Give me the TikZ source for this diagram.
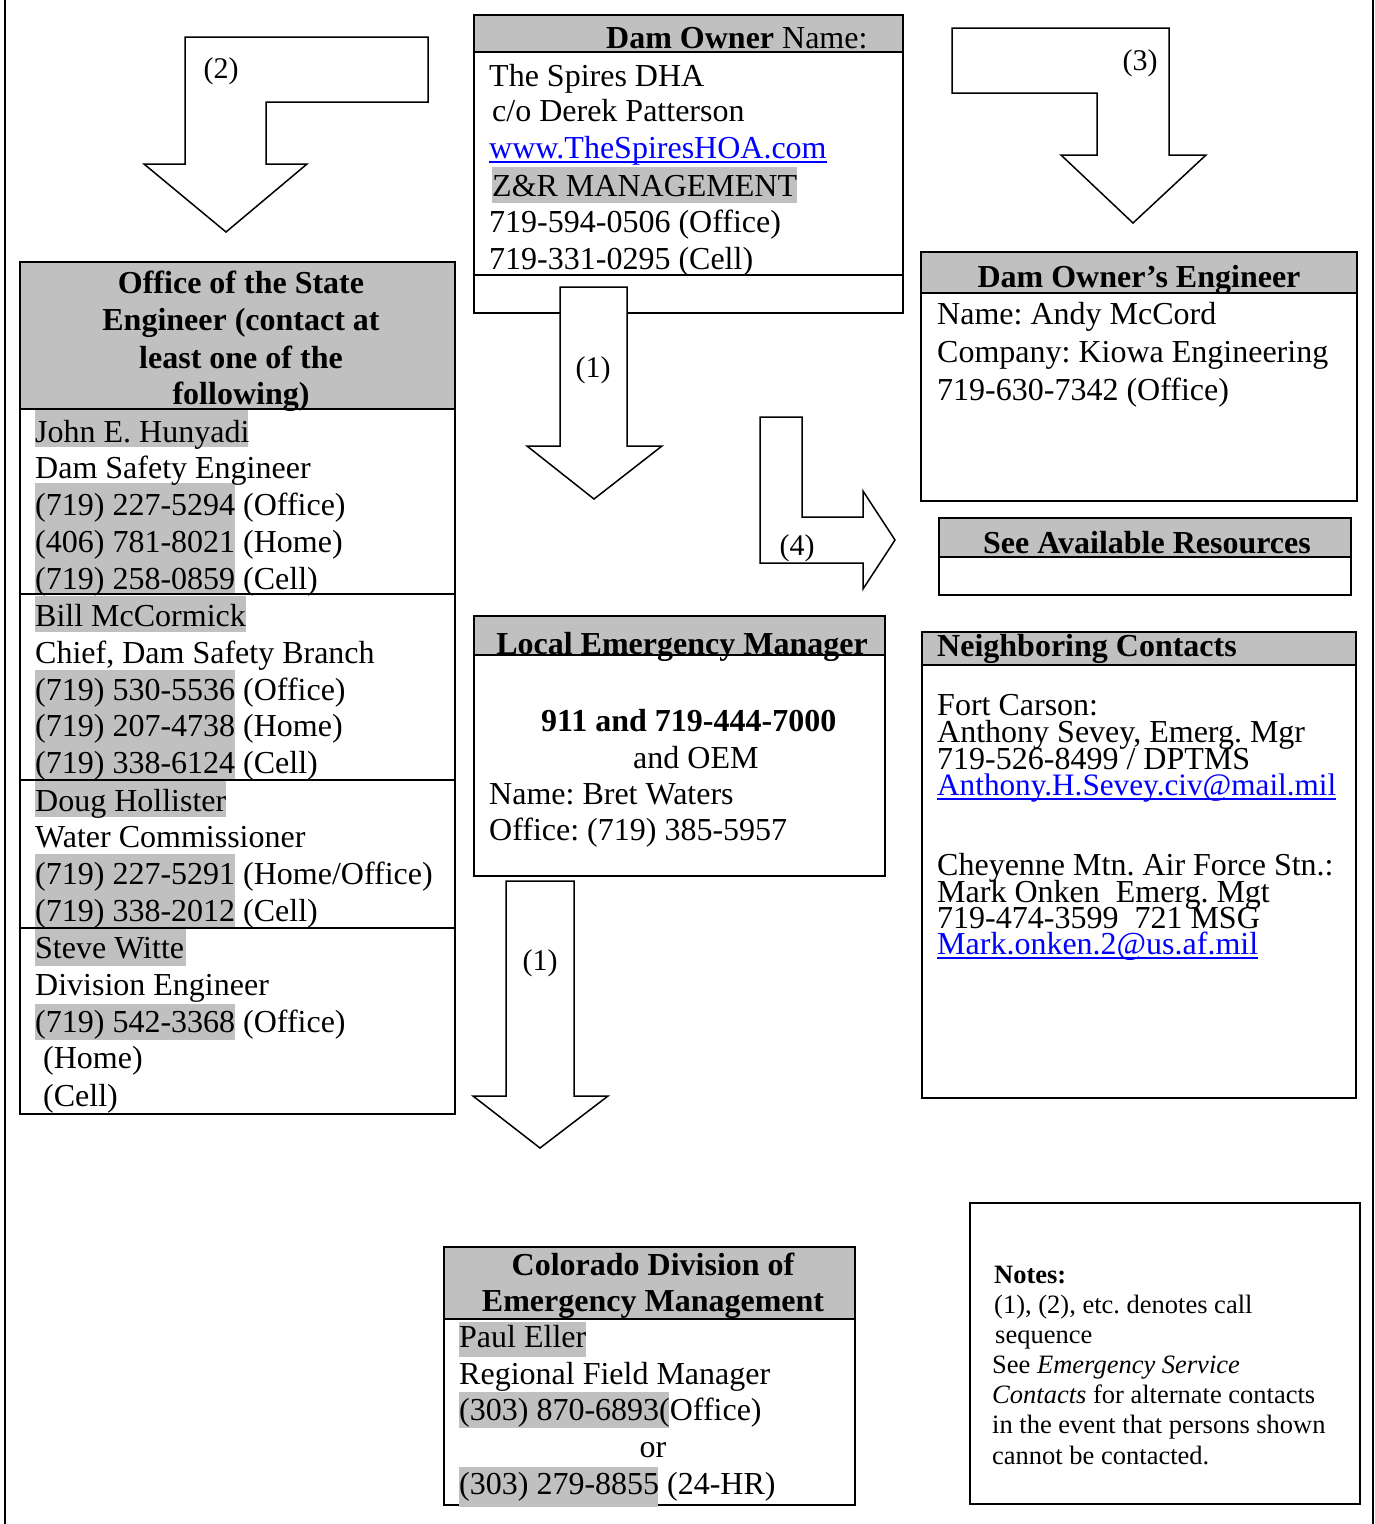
\documentclass[tikz,border=0pt]{standalone}
\usepackage{fontspec}
\setmainfont{Liberation Serif}
\definecolor{hl}{RGB}{192,192,192}
\definecolor{lnk}{RGB}{0,0,255}
\tikzset{
 tx/.style={anchor=base west, inner sep=0pt, font=\fontsize{32}{37}\selectfont},
 hd/.style={anchor=base, inner sep=0pt, font=\fontsize{32}{37}\selectfont\bfseries},
 lbl/.style={anchor=base, inner sep=0pt, font=\fontsize{30}{34}\selectfont},
 nt/.style={anchor=base west, inner sep=0pt, font=\fontsize{26.5}{30}\selectfont},
 box/.style={draw=black, line width=1.5pt},
 blk/.style={draw=black, line width=1.5pt, fill=white, line join=miter},
 lk/.style={tx, text=lnk},
 ul/.style={draw=lnk, line width=1.5pt},
}
\begin{document}
\frenchspacing
\begin{tikzpicture}[x=1pt,y=-1pt]
\useasboundingbox (0,0) rectangle (1375,1524);
% page borders
\draw[line width=2pt] (5,0) -- (5,1524);
\draw[line width=2pt] (1373,0) -- (1373,1524);

% ---------- arrow (2)
\draw[blk] (185,37) -- (428,37) -- (428,102) -- (266,102) -- (266,164) -- (307,164) -- (226,232) -- (144,164) -- (185,164) -- cycle;
\node[lbl] (l2) at (221,78) {(2)};

% ---------- arrow (3)
\draw[blk] (952,28) -- (1169,28) -- (1169,155) -- (1206,155) -- (1133,223) -- (1061,155) -- (1097,155) -- (1097,93) -- (952,93) -- cycle;
\node[lbl] (l3) at (1140,70) {(3)};

% ---------- Dam Owner box
\fill[hl] (474,15) rectangle (903,52);
\draw[box] (474,15) rectangle (903,313);
\draw[box] (474,52) -- (903,52);
\draw[box] (474,275) -- (903,275);
\fill[hl] (492,167) rectangle (797,203);
\node[tx] (doh) at (606,48) {\textbf{Dam Owner} Name:};
\node[tx] (do1) at (489,86) {The Spires DHA};
\node[tx] (do2) at (492,121) {c/o Derek Patterson};
\node[lk] (do3) at (489,158) {www.TheSpiresHOA.com};
\draw[ul] ([yshift=-4pt]do3.base west) -- ([yshift=-4pt]do3.base east);
\node[tx] (do4) at (492,196) {Z\&R MANAGEMENT};
\node[tx] (do5) at (489,232) {719-594-0506 (Office)};
\node[tx] (do6) at (489,269) {719-331-0295 (Cell)};

% ---------- arrow (1) top
\draw[blk] (560,287) -- (627,287) -- (627,446) -- (662,446) -- (594,499) -- (527,446) -- (560,446) -- cycle;
\node[lbl] (l1a) at (593,377) {(1)};

% ---------- arrow (4)
\draw[blk] (760,417) -- (802,417) -- (802,517) -- (863,517) -- (863,491) -- (895,540) -- (863,589) -- (863,563) -- (760,563) -- cycle;
\node[lbl] (l4) at (797,555) {(4)};

% ---------- Office of the State Engineer
\fill[hl] (20,262) rectangle (455,409);
\fill[hl] (35,410) rectangle (248,447);
\fill[hl] (35,483) rectangle (235,593);
\fill[hl] (35,596) rectangle (246,632);
\fill[hl] (35,670) rectangle (235,779);
\fill[hl] (35,781) rectangle (226,817);
\fill[hl] (35,854) rectangle (235,927);
\fill[hl] (35,929) rectangle (186,966);
\fill[hl] (35,1004) rectangle (235,1040);
\draw[box] (20,262) rectangle (455,1114);
\draw[box] (20,409) -- (455,409);
\draw[box] (20,594) -- (455,594);
\draw[box] (20,780) -- (455,780);
\draw[box] (20,928) -- (455,928);
\node[hd] (se1) at (241,293) {Office of the State};
\node[hd] (se2) at (241,330) {Engineer (contact at};
\node[hd] (se3) at (241,368) {least one of the};
\node[hd] (se4) at (241,404) {following)};
\node[tx] (a1) at (35,442) {John E. Hunyadi};
\node[tx] (a2) at (35,478) {Dam Safety Engineer};
\node[tx] (a3) at (35,515) {(719) 227-5294 (Office)};
\node[tx] (a4) at (35,552) {(406) 781-8021 (Home)};
\node[tx] (a5) at (35,589) {(719) 258-0859 (Cell)};
\node[tx] (b1) at (35,626) {Bill McCormick};
\node[tx] (b2) at (35,663) {Chief, Dam Safety Branch};
\node[tx] (b3) at (35,700) {(719) 530-5536 (Office)};
\node[tx] (b4) at (35,736) {(719) 207-4738 (Home)};
\node[tx] (b5) at (35,773) {(719) 338-6124 (Cell)};
\node[tx] (c1) at (35,811) {Doug Hollister};
\node[tx] (c2) at (35,847) {Water Commissioner};
\node[tx] (c3) at (35,884) {(719) 227-5291 (Home/Office)};
\node[tx] (c4) at (35,921) {(719) 338-2012 (Cell)};
\node[tx] (d1) at (35,958) {Steve Witte};
\node[tx] (d2) at (35,995) {Division Engineer};
\node[tx] (d3) at (35,1032) {(719) 542-3368 (Office)};
\node[tx] (d4) at (43,1068) {(Home)};
\node[tx] (d5) at (43,1106) {(Cell)};

% ---------- Local Emergency Manager
\fill[hl] (474,616) rectangle (885,655);
\draw[box] (474,616) rectangle (885,876);
\draw[box] (474,655) -- (885,655);
\node[hd] (lemh) at (682,654) {Local Emergency Manager};
\node[tx] (lem1) at (541,731) {\bfseries 911 and 719-444-7000};
\node[tx] (lem2) at (633,768) {and OEM};
\node[tx] (lem3) at (489,804) {Name: Bret Waters};
\node[tx] (lem4) at (489,840) {Office: (719) 385-5957};

% ---------- arrow (1) lower
\draw[blk] (506,881) -- (574,881) -- (574,1096) -- (608,1096) -- (540,1148) -- (473,1096) -- (506,1096) -- cycle;
\node[lbl] (l1b) at (540,970) {(1)};

% ---------- Colorado Division
\fill[hl] (444,1247) rectangle (855,1319);
\draw[box, line width=2pt] (444,1247) rectangle (855,1505);
\draw[box, line width=2pt] (444,1319) -- (855,1319);
\fill[hl] (459,1322) rectangle (586,1357);
\fill[hl] (459,1392) rectangle (669,1428);
\fill[hl] (459,1467) rectangle (658,1507);
\node[hd] (co1) at (653,1275) {Colorado Division of};
\node[hd] (co2) at (653,1311) {Emergency Management};
\node[tx] (co3) at (459,1347) {Paul Eller};
\node[tx] (co4) at (459,1384) {Regional Field Manager};
\node[tx] (co5) at (459,1420) {(303) 870-6893(Office)};
\node[tx, anchor=base] (co6) at (653,1457) {or};
\node[tx] (co7) at (459,1494) {(303) 279-8855 (24-HR)};

% ---------- Dam Owner's Engineer
\fill[hl] (921,252) rectangle (1357,293);
\draw[box] (921,252) rectangle (1357,501);
\draw[box] (921,293) -- (1357,293);
\node[hd] (doeh) at (1139,287) {Dam Owner’s Engineer};
\node[tx] (doe1) at (937,324) {Name: Andy McCord};
\node[tx] (doe2) at (937,362) {Company: Kiowa Engineering};
\node[tx] (doe3) at (937,400) {719-630-7342 (Office)};

% ---------- See Available Resources
\fill[hl] (939,518) rectangle (1351,557);
\draw[box] (939,518) rectangle (1351,595);
\draw[box] (939,557) -- (1351,557);
\node[hd] (sar) at (1147,553) {See Available Resources};

% ---------- Neighboring Contacts
\fill[hl] (922,632) rectangle (1356,665);
\draw[box, line width=2.5pt] (922,632) rectangle (1356,1098);
\draw[box, line width=2.5pt] (922,665) -- (1356,665);
\node[tx, font=\fontsize{32}{37}\selectfont\bfseries] (nch) at (937,656) {Neighboring Contacts};
\node[tx] (nc1) at (937,715) {Fort Carson:};
\node[tx] (nc2) at (937,742) {Anthony Sevey, Emerg. Mgr};
\node[tx] (nc3) at (937,769) {719-526-8499 / DPTMS};
\node[lk, font=\fontsize{31.2}{36}\selectfont] (nc4) at (937,795) {Anthony.H.Sevey.civ@mail.mil};
\draw[ul] ([yshift=-4pt]nc4.base west) -- ([yshift=-4pt]nc4.base east);
\node[tx] (nc5) at (937,875) {Cheyenne Mtn. Air Force Stn.:};
\node[tx] (nc6) at (937,902) {Mark Onken\ \ Emerg. Mgt};
\node[tx] (nc7) at (937,928) {719-474-3599\ \ 721 MSG};
\node[lk] (nc8) at (937,954) {Mark.onken.2@us.af.mil};
\draw[ul] ([yshift=-4pt]nc8.base west) -- ([yshift=-4pt]nc8.base east);

% ---------- Notes
\draw[box] (970,1203) rectangle (1360,1504);
\node[nt] (n1) at (994,1283) {\bfseries Notes:};
\node[nt] (n2) at (994,1313) {(1), (2), etc. denotes call};
\node[nt] (n3) at (995,1343) {sequence};
\node[nt] (n4) at (992,1373) {See \textit{Emergency Service}};
\node[nt] (n5) at (992,1403) {\textit{Contacts} for alternate contacts};
\node[nt] (n6) at (992,1433) {in the event that persons shown};
\node[nt] (n7) at (992,1464) {cannot be contacted.};
\end{tikzpicture}
\end{document}
